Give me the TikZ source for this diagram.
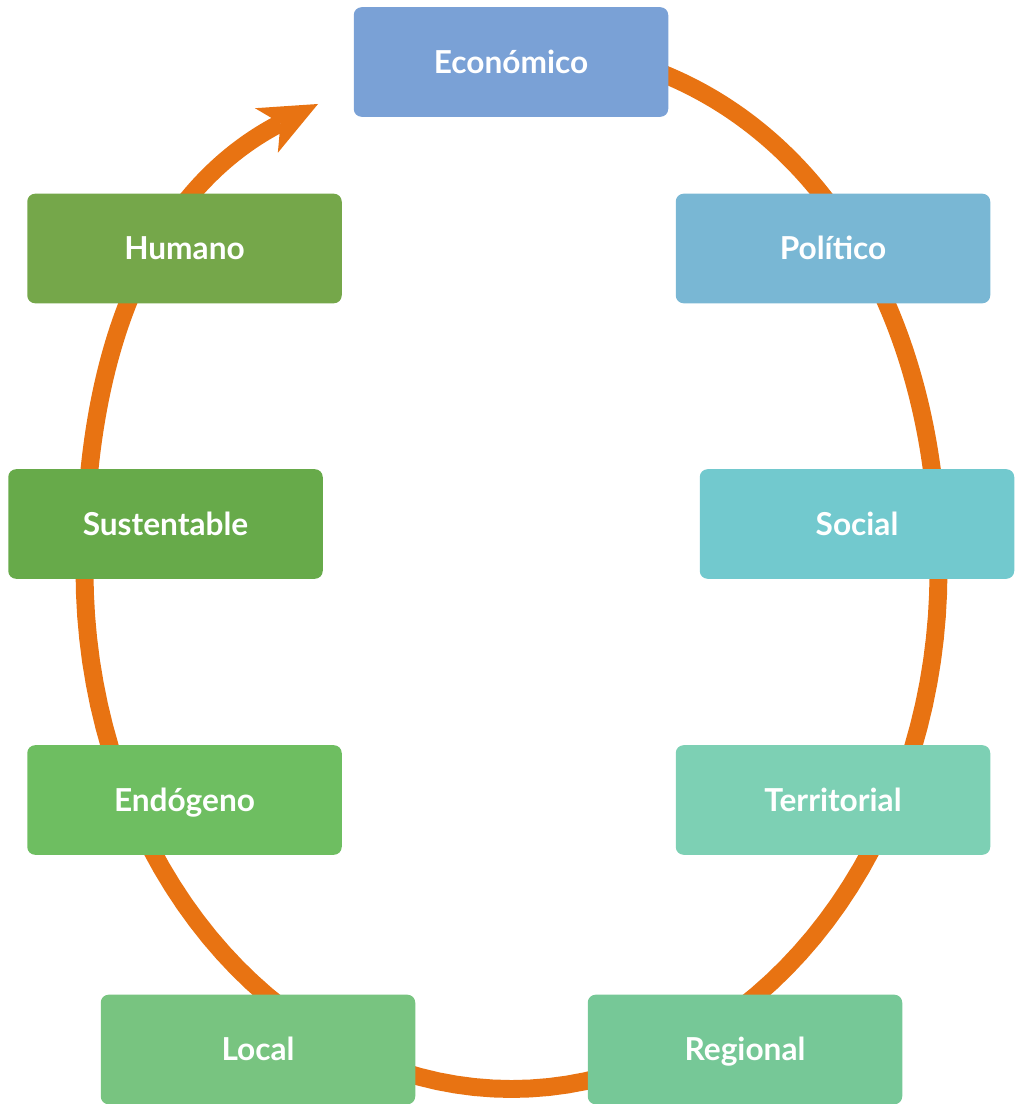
\documentclass[tikz,border=0pt]{standalone}
\usepackage{fontspec}
\setmainfont{Lato}
\usetikzlibrary{arrows.meta,backgrounds}
\definecolor{ringorange}{RGB}{232,115,18}
\definecolor{ceconomico}{RGB}{122,161,214}
\definecolor{cpolitico}{RGB}{121,183,212}
\definecolor{csocial}{RGB}{114,201,206}
\definecolor{cterritorial}{RGB}{125,208,180}
\definecolor{cregional}{RGB}{118,200,151}
\definecolor{clocal}{RGB}{120,196,128}
\definecolor{cendogeno}{RGB}{110,190,97}
\definecolor{csustentable}{RGB}{103,170,74}
\definecolor{chumano}{RGB}{117,167,74}
\tikzset{box/.style={rectangle, rounded corners=4.5pt, minimum width=179pt, minimum height=62.4pt, inner sep=0pt, text=white, text height=13pt, text depth=0pt, font=\bfseries\fontsize{18}{20}\selectfont}}
\tikzset{ring/.style={draw=ringorange, line width=10.2pt}}
\begin{document}
\begin{tikzpicture}[x=0.02cm, y=-0.02cm]
  \useasboundingbox (0,0) rectangle (1018,1104);
  \node[box, fill=ceconomico] (economico) at (511,62) {Económico};
  \node[box, fill=cpolitico] (politico) at (833,248.5) {Político};
  \node[box, fill=csocial] (social) at (857,524) {Social};
  \node[box, fill=cterritorial] (territorial) at (833,800) {Territorial};
  \node[box, fill=cregional] (regional) at (745,1049.5) {Regional};
  \node[box, fill=clocal] (local) at (258,1049.5) {Local};
  \node[box, fill=cendogeno] (endogeno) at (184.5,800) {Endógeno};
  \node[box, fill=csustentable] (sustentable) at (165.5,524) {Sustentable};
  \node[box, fill=chumano] (humano) at (184.5,248.5) {Humano};
  \coordinate (tip) at (318,104);
  \begin{scope}[on background layer]
  \draw[ring, -{Stealth[length=33pt, width=28.5pt, inset=9pt, line width=0pt]}]
    (511.5,45) .. controls (771.5,45) and (938.5,271) .. (938.5,571)
    -- plot[domain=0:180, samples=73] ({511.5+427*cos(\x)}, {571+518*sin(\x)})
    .. controls (84.5,271) and (202.3,163.4) .. (tip);
  \end{scope}
\end{tikzpicture}
\end{document}
